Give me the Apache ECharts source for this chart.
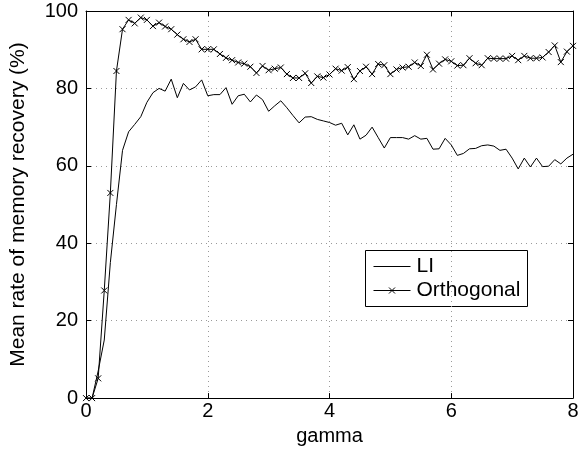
<!DOCTYPE html>
<html>
<head>
<meta charset="utf-8">
<script src="https://cdn.jsdelivr.net/npm/echarts@6/dist/echarts.min.js"></script>
<style>
  html, body { margin: 0; padding: 0; background: #fff; }
  #chart { width: 586px; height: 451px; }
</style>
</head>
<body>
<div id="chart"></div>
<script>
// gamma sample points (0 to 8, step 0.1)
var gamma = [
  0.0, 0.1, 0.2, 0.3, 0.4, 0.5, 0.6, 0.7, 0.8, 0.9,
  1.0, 1.1, 1.2, 1.3, 1.4, 1.5, 1.6, 1.7, 1.8, 1.9,
  2.0, 2.1, 2.2, 2.3, 2.4, 2.5, 2.6, 2.7, 2.8, 2.9,
  3.0, 3.1, 3.2, 3.3, 3.4, 3.5, 3.6, 3.7, 3.8, 3.9,
  4.0, 4.1, 4.2, 4.3, 4.4, 4.5, 4.6, 4.7, 4.8, 4.9,
  5.0, 5.1, 5.2, 5.3, 5.4, 5.5, 5.6, 5.7, 5.8, 5.9,
  6.0, 6.1, 6.2, 6.3, 6.4, 6.5, 6.6, 6.7, 6.8, 6.9,
  7.0, 7.1, 7.2, 7.3, 7.4, 7.5, 7.6, 7.7, 7.8, 7.9,
  8.0
];

// mean recovery rate (%) with LI memories
var liRate = [
  0, 0, 7, 15, 35, 50, 64, 68.8, 70.7, 72.7,
  76.4, 78.9, 80.0, 79.3, 82.4, 77.6, 81.3, 79.6, 80.4, 82.2,
  78.1, 78.4, 78.4, 80.2, 75.9, 78.1, 78.5, 76.5, 78.3, 77.1,
  74.1, 75.5, 76.8, 75.0, 73.0, 71.1, 72.6, 72.7, 72.0, 71.6,
  71.2, 70.5, 71.0, 68.0, 70.6, 66.9, 67.9, 70.0, 67.3, 64.6,
  67.3, 67.3, 67.3, 66.9, 67.8, 66.9, 67.1, 64.3, 64.4, 67.1,
  65.4, 62.7, 63.2, 64.4, 64.5, 65.2, 65.4, 65.1, 64.0, 64.3,
  62.0, 59.2, 62.0, 59.7, 62.0, 59.8, 59.9, 61.6, 60.5, 62.0,
  63.0
];

// mean recovery rate (%) with orthogonal memories
var orthoRate = [
  0, 0, 5.1, 27.8, 53, 84.5, 95.3, 97.7, 96.8, 98.3,
  97.7, 96.1, 97.0, 96.0, 95.3, 93.9, 92.7, 92.0, 92.7, 90.1,
  90.1, 90.1, 88.9, 87.9, 87.3, 86.7, 86.4, 85.6, 84.0, 85.8,
  84.7, 85.1, 85.4, 83.7, 82.7, 82.7, 83.9, 81.4, 83.1, 82.8,
  83.6, 85.1, 84.6, 85.5, 82.4, 84.5, 85.6, 83.7, 86.3, 86.0,
  83.7, 84.9, 85.4, 85.6, 86.7, 85.8, 88.7, 84.9, 86.4, 87.5,
  87.0, 85.9, 86.0, 87.8, 86.5, 86.0, 87.8, 87.7, 87.7, 87.7,
  88.4, 87.3, 88.4, 87.8, 87.8, 88.0, 89.4, 91.1, 86.8, 89.5,
  91.0
];

var seriesNames = ['LI', 'Orthogonal'];
var xTicks = [0, 2, 4, 6, 8];
var yTicks = [0, 20, 40, 60, 80, 100];

function pairs(xs, ys) {
  return xs.map(function (x, i) { return [x, ys[i]]; });
}

var FONT = '"Liberation Sans", Arial, Helvetica, sans-serif';
var TICK_FS = 20;
var LABEL_FS = 21;
var KEY_FS = 21;
var crossMark = 'path://M0,0L10,10M10,0L0,10';

var chart = echarts.init(document.getElementById('chart'), null, { renderer: 'canvas' });

var gridLine = { show: true, lineStyle: { color: '#9a9a9a', type: [1, 4], width: 1 } };
var tickStyle = { show: true, inside: true, length: 5, lineStyle: { color: '#000' } };

// boxed key in the lower right of the plot
var key = {
  type: 'group', left: 365, top: 250, z: 100,
  children: [
    { type: 'rect', shape: { x: 0, y: 0, width: 162, height: 56 },
      style: { fill: '#fff', stroke: '#000', lineWidth: 1 } },
    { type: 'line', shape: { x1: 8, y1: 16, x2: 45, y2: 16 },
      style: { stroke: '#000', lineWidth: 1 } },
    { type: 'text', x: 51, y: 16,
      style: { text: seriesNames[0], fill: '#000', font: KEY_FS + 'px ' + FONT, verticalAlign: 'middle' } },
    { type: 'line', shape: { x1: 8, y1: 40, x2: 45, y2: 40 },
      style: { stroke: '#000', lineWidth: 1 } },
    { type: 'polyline', shape: { points: [[23.5, 37], [29.5, 43]] },
      style: { stroke: '#000', lineWidth: 1 } },
    { type: 'polyline', shape: { points: [[29.5, 37], [23.5, 43]] },
      style: { stroke: '#000', lineWidth: 1 } },
    { type: 'text', x: 51, y: 40,
      style: { text: seriesNames[1], fill: '#000', font: KEY_FS + 'px ' + FONT, verticalAlign: 'middle' } }
  ]
};

chart.setOption({
  animation: false,
  backgroundColor: '#ffffff',
  textStyle: { fontFamily: FONT },
  grid: { left: 80, right: 13, top: 11, bottom: 52, containLabel: false },
  xAxis: [{
    type: 'value',
    min: xTicks[0], max: xTicks[xTicks.length - 1], interval: 2,
    name: 'gamma', nameLocation: 'middle', nameGap: 26,
    nameTextStyle: { fontSize: TICK_FS, color: '#000', fontFamily: FONT },
    axisLine: { show: true, lineStyle: { color: '#000', width: 1 } },
    axisTick: tickStyle,
    axisLabel: { fontSize: TICK_FS, color: '#000', margin: 3, fontFamily: FONT },
    splitLine: gridLine
  }, {
    type: 'value', position: 'top',
    min: xTicks[0], max: xTicks[xTicks.length - 1], interval: 2,
    axisLine: { show: true, onZero: false, lineStyle: { color: '#000', width: 1 } },
    axisTick: tickStyle,
    axisLabel: { show: false },
    splitLine: { show: false }
  }],
  yAxis: [{
    type: 'value',
    min: yTicks[0], max: yTicks[yTicks.length - 1], interval: 20,
    name: 'Mean rate of memory recovery (%)', nameLocation: 'middle', nameGap: 57, nameRotate: 90,
    nameTextStyle: { fontSize: LABEL_FS, color: '#000', fontFamily: FONT },
    axisLine: { show: true, lineStyle: { color: '#000', width: 1 } },
    axisTick: tickStyle,
    axisLabel: { fontSize: TICK_FS, color: '#000', margin: 8, fontFamily: FONT },
    splitLine: gridLine
  }, {
    type: 'value', position: 'right',
    min: yTicks[0], max: yTicks[yTicks.length - 1], interval: 20,
    axisLine: { show: true, onZero: false, lineStyle: { color: '#000', width: 1 } },
    axisTick: tickStyle,
    axisLabel: { show: false },
    splitLine: { show: false }
  }],
  graphic: [key],
  series: [{
    name: seriesNames[0],
    type: 'line',
    data: pairs(gamma, liRate),
    symbol: 'none',
    lineStyle: { color: '#000', width: 1 },
    itemStyle: { color: '#000' },
    z: 3
  }, {
    name: seriesNames[1],
    type: 'line',
    data: pairs(gamma, orthoRate),
    symbol: crossMark,
    symbolSize: 6,
    lineStyle: { color: '#000', width: 1 },
    itemStyle: { color: 'none', borderColor: '#000', borderWidth: 1 },
    z: 3
  }]
});
</script>
</body>
</html>
